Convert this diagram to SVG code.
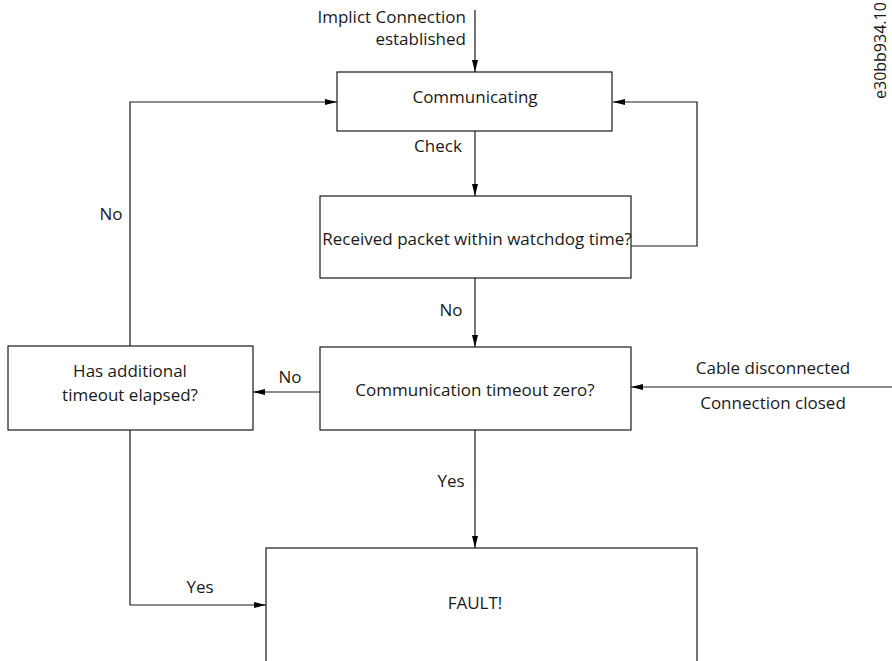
<svg xmlns="http://www.w3.org/2000/svg" width="892" height="661" viewBox="0 0 892 661">
  <style>
    .box { fill: #ffffff; stroke: #1a1a1a; stroke-width: 1.2; }
    .wire { fill: none; stroke: #1a1a1a; stroke-width: 1.2; }
    text { font-family: "Open Sans", "Liberation Sans", sans-serif; font-size: 17px; fill: #1a1a1a; }
    .c { text-anchor: middle; }
    .r { text-anchor: end; }
  </style>
  <defs>
    <marker id="arrow" viewBox="0 0 12 6" refX="12" refY="3" markerWidth="12" markerHeight="6" markerUnits="userSpaceOnUse" orient="auto">
      <path d="M0,0 L12,3 L0,6 Z" fill="#000000"/>
    </marker>
  </defs>

  <rect width="892" height="661" fill="#ffffff"/>

  <g id="connectors">
    <!-- entry into Communicating -->
    <line class="wire" x1="475" y1="10" x2="475" y2="72" marker-end="url(#arrow)"/>
    <!-- Communicating -> watchdog check -->
    <line class="wire" x1="475" y1="131" x2="475" y2="196" marker-end="url(#arrow)"/>
    <!-- watchdog OK loops back -->
    <polyline class="wire" points="631,246 697,246 697,102 613,102" marker-end="url(#arrow)"/>
    <!-- watchdog failed -> timeout zero? -->
    <line class="wire" x1="475" y1="278" x2="475" y2="347" marker-end="url(#arrow)"/>
    <!-- timeout not zero -> additional timeout -->
    <line class="wire" x1="320" y1="392" x2="253" y2="392" marker-end="url(#arrow)"/>
    <!-- additional timeout not elapsed -> Communicating -->
    <polyline class="wire" points="130,346 130,102 337,102" marker-end="url(#arrow)"/>
    <!-- external events -->
    <line class="wire" x1="892" y1="387" x2="631" y2="387" marker-end="url(#arrow)"/>
    <!-- timeout zero -> FAULT -->
    <line class="wire" x1="475" y1="430" x2="475" y2="548" marker-end="url(#arrow)"/>
    <!-- additional timeout elapsed -> FAULT -->
    <polyline class="wire" points="130,430 130,605 266,605" marker-end="url(#arrow)"/>

    <text class="r" x="466" y="23">Implict Connection</text>
    <text class="r" x="466" y="45">established</text>
    <text class="c" x="438" y="152">Check</text>
    <text class="c" x="451" y="316">No</text>
    <text class="c" x="290" y="383">No</text>
    <text class="c" x="111" y="220">No</text>
    <text class="c" x="451" y="487">Yes</text>
    <text class="c" x="200" y="593">Yes</text>
    <text class="c" x="773" y="374">Cable disconnected</text>
    <text class="c" x="773" y="409">Connection closed</text>
  </g>

  <g id="communicating">
    <rect class="box" x="337" y="72" width="275" height="59"/>
    <text class="c" x="475" y="103">Communicating</text>
  </g>

  <g id="watchdog-check">
    <rect class="box" x="320" y="196" width="311" height="82"/>
    <text class="c" x="477" y="245">Received packet within watchdog time?</text>
  </g>

  <g id="timeout-zero">
    <rect class="box" x="320" y="347" width="311" height="83"/>
    <text class="c" x="475" y="396">Communication timeout zero?</text>
  </g>

  <g id="additional-timeout">
    <rect class="box" x="8" y="346" width="245" height="84"/>
    <text class="c" x="130" y="377">Has additional</text>
    <text class="c" x="130" y="401">timeout elapsed?</text>
  </g>

  <g id="fault">
    <rect class="box" x="266" y="548" width="431" height="130"/>
    <text class="c" x="475" y="609">FAULT!</text>
  </g>

  <text x="0" y="0" transform="translate(886,99) rotate(-90)" style="font-size:16px">e30bb934.10</text>
</svg>
